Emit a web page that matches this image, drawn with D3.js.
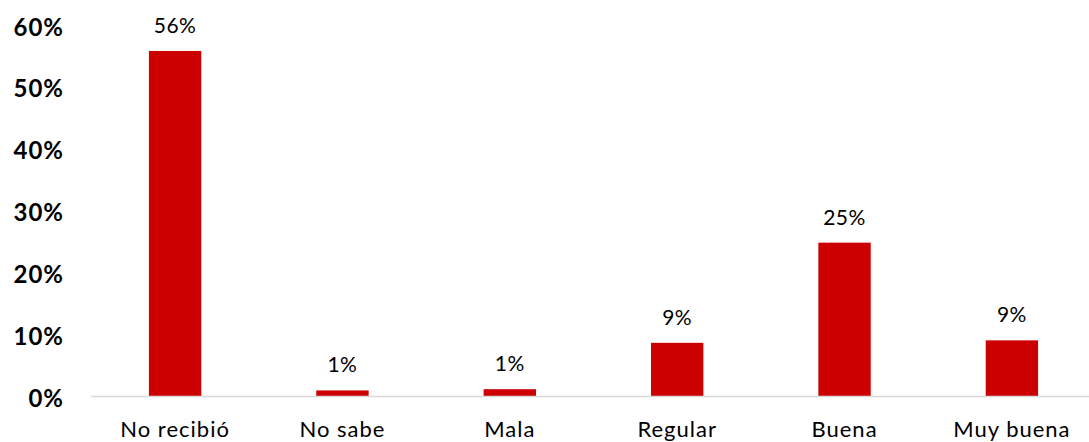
<!DOCTYPE html>
<html><head><meta charset="utf-8">
<script src="https://cdn.jsdelivr.net/npm/d3@7"></script>
<style>body{margin:0;background:#fff;} svg{display:block;}</style>
</head><body>
<svg id="chart" width="1089" height="442"></svg>
<script>
const categories = ["No recibió","No sabe","Mala","Regular","Buena","Muy buena"];
const values = [55.8, 0.9, 1.1, 8.6, 24.8, 9.0];
const valueLabels = ["56%","1%","1%","9%","25%","9%"];
const yTicks = [0,10,20,30,40,50,60];

const svg = d3.select("#chart");
const W = 1089, H = 442;
const x = d3.scaleBand().domain(categories).range([91, 1096]).paddingInner(0.687).paddingOuter(0.346);
const y = d3.scaleLinear().domain([0,60]).range([396, 25]);
const font = "'Century Gothic','Lato','Open Sans',sans-serif";

svg.selectAll("rect.bar").data(values).enter().append("rect")
  .attr("class","bar")
  .attr("x",(d,i)=>x(categories[i]))
  .attr("width",x.bandwidth())
  .attr("y",d=>y(d))
  .attr("height",d=>y(0)-y(d))
  .attr("fill","#cc0000");

svg.append("line").attr("x1",91).attr("x2",W).attr("y1",y(0)+0.5).attr("y2",y(0)+0.5)
  .attr("stroke","#d9d9d9").attr("stroke-width",1.5);

svg.selectAll("text.ytick").data(yTicks).enter().append("text")
  .attr("class","ytick")
  .attr("x",64).attr("y",d=>y(d)+10.5)
  .attr("text-anchor","end")
  .attr("font-family",font).attr("font-weight","bold").attr("font-size",24)
  .attr("letter-spacing",1)
  .attr("fill","#000").text(d=>d+"%");

svg.selectAll("text.val").data(values).enter().append("text")
  .attr("class","val")
  .attr("x",(d,i)=>x(categories[i])+x.bandwidth()/2)
  .attr("y",d=>y(d)-18)
  .attr("text-anchor","middle")
  .attr("font-family",font).attr("font-size",21)
  .attr("letter-spacing",0.5)
  .attr("fill","#000").text((d,i)=>valueLabels[i]);

svg.selectAll("text.cat").data(categories).enter().append("text")
  .attr("class","cat")
  .attr("x",d=>x(d)+x.bandwidth()/2)
  .attr("y",437)
  .attr("text-anchor","middle")
  .attr("font-family",font).attr("font-size",22)
  .attr("letter-spacing",1)
  .attr("fill","#000").text(d=>d);
</script>
</body></html>
